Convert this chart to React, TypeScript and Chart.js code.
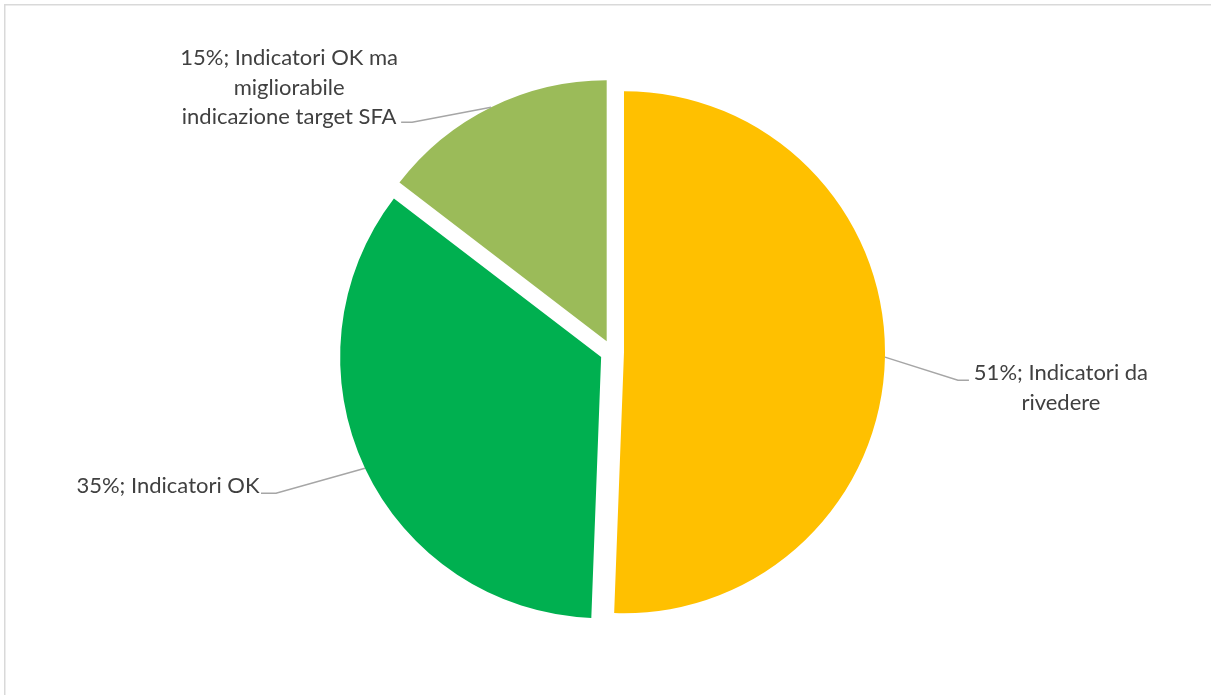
import React, { useEffect, useRef } from "react";
import { Chart, registerables } from "chart.js";

Chart.register(...registerables);

const categories: string[] = [
  "Indicatori da rivedere",
  "Indicatori OK",
  "Indicatori OK ma migliorabile indicazione target SFA",
];
const shares: number[] = [50.6, 34.8, 14.6];
const labelLines: string[][] = [
  ["51%; Indicatori da", "rivedere"],
  ["35%; Indicatori OK"],
  ["15%; Indicatori OK ma", "migliorabile", "indicazione target SFA"],
];
const sliceColors: string[] = ["#FFC000", "#00B050", "#9BBB59"];

// leader/label layout relative to each slice's outer mid point
const labelLayout = [
  { elbow: [73, 23], tail: 11, text: [176, 16] },
  { elbow: [-89, 25], tail: -15, text: [-197, 18] },
  { elbow: [-79, 15], tail: -11, text: [-202, -49] },
];

const EXPLODE = 12; // visual explode distance in px
const FONT = "Lato, 'Open Sans', sans-serif";

// draw each arc translated outward along its mid-angle (uniform radius)
const explodePlugin = {
  id: "explode",
  beforeDatasetDraw(chart: any, args: any) {
    const ctx = chart.ctx;
    const meta = args.meta;
    meta.data.forEach((arc: any) => {
      const p = arc.getProps(["startAngle", "endAngle"], true);
      const mid = (p.startAngle + p.endAngle) / 2;
      ctx.save();
      ctx.translate(Math.cos(mid) * EXPLODE, Math.sin(mid) * EXPLODE);
      arc.draw(ctx, chart.chartArea);
      ctx.restore();
    });
    return false;
  },
};

const labelPlugin = {
  id: "calloutLabels",
  afterDatasetsDraw(chart: any) {
    const ctx = chart.ctx;
    const meta = chart.getDatasetMeta(0);
    ctx.save();
    meta.data.forEach((arc: any, i: number) => {
      const p = arc.getProps(["x", "y", "startAngle", "endAngle", "outerRadius"], true);
      const mid = (p.startAngle + p.endAngle) / 2;
      const ax = p.x + Math.cos(mid) * (p.outerRadius + EXPLODE);
      const ay = p.y + Math.sin(mid) * (p.outerRadius + EXPLODE);
      const lay = labelLayout[i];
      const ex = ax + lay.elbow[0];
      const ey = ay + lay.elbow[1];
      ctx.strokeStyle = "#A6A6A6";
      ctx.lineWidth = 1.5;
      ctx.beginPath();
      ctx.moveTo(ax, ay);
      ctx.lineTo(ex, ey);
      ctx.lineTo(ex + lay.tail, ey);
      ctx.stroke();
      ctx.fillStyle = "#404040";
      ctx.font = `22px ${FONT}`;
      ctx.textAlign = "center";
      ctx.textBaseline = "middle";
      const tx = ax + lay.text[0];
      const ty = ay + lay.text[1];
      labelLines[i].forEach((line, j) => {
        ctx.fillText(line, tx, ty + j * 29.5);
      });
    });
    ctx.restore();
  },
};

const framePlugin = {
  id: "frame",
  beforeDraw(chart: any) {
    const ctx = chart.ctx;
    ctx.save();
    ctx.fillStyle = "#FFFFFF";
    ctx.fillRect(0, 0, chart.width, chart.height);
    ctx.strokeStyle = "#D9D9D9";
    ctx.lineWidth = 1.5;
    ctx.strokeRect(4.75, 4.75, chart.width + 20, chart.height + 20);
    ctx.restore();
  },
};

export default function App() {
  const ref = useRef<HTMLCanvasElement | null>(null);
  useEffect(() => {
    if (!ref.current) return;
    const chart = new Chart(ref.current, {
      type: "pie",
      data: {
        labels: categories,
        datasets: [
          {
            data: shares,
            backgroundColor: sliceColors,
            borderWidth: 0,
            offset: 0,
            hoverOffset: 0,
          },
        ],
      },
      options: {
        animation: false,
        responsive: false,
        radius: 261,
        layout: { padding: { left: 211, right: 198, top: 85, bottom: 76 } },
        plugins: {
          legend: { display: false },
          tooltip: { enabled: false },
        },
        events: [],
      } as any,
      plugins: [framePlugin, explodePlugin, labelPlugin],
    });
    return () => chart.destroy();
  }, []);
  return (
    <div style={{ position: "fixed", left: 0, top: 0, width: 1211, height: 695, background: "#fff" }}>
      <canvas ref={ref} width={1211} height={695} style={{ display: "block", width: 1211, height: 695 }} />
    </div>
  );
}
